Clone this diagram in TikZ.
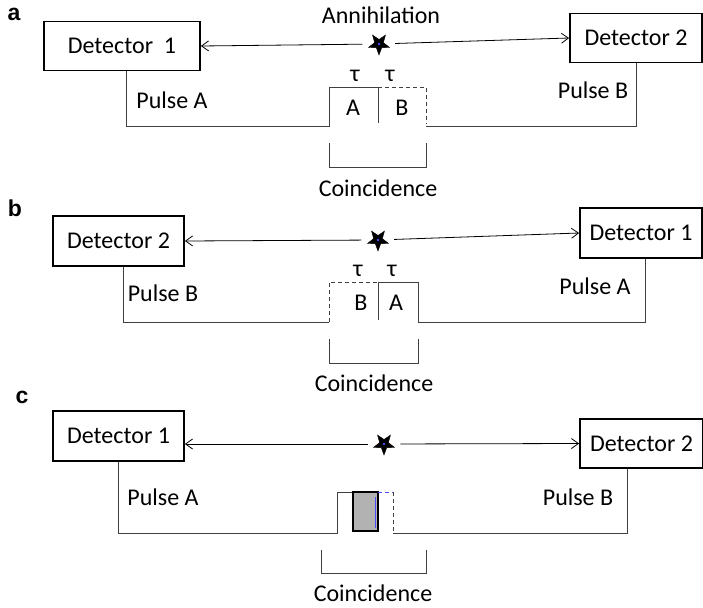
\documentclass[tikz,border=0pt]{standalone}
\usepackage{fontspec}
\setmainfont{Carlito}
\newfontfamily\panelfont{Liberation Sans}
\usetikzlibrary{positioning,calc,arrows.meta,shapes.geometric}

\begin{document}
\begin{tikzpicture}[
		x=1pt,y=-1pt,
		>={Straight Barb[length=7pt,width=10pt]},
		font=\fontsize{24}{28}\selectfont,
		detbox/.style={draw=black,line width=1.8pt,inner sep=0pt,minimum height=49pt},
		ray/.style={->,black,line width=0.8pt,shorten <=10pt},
		pulse/.style={black!75,line width=0.9pt},
		gatedash/.style={pulse,dash pattern=on 4pt off 3pt},
		source/.style={star,star points=5,star point ratio=2.4,shape border rotate=180,
			fill=black,draw=black,minimum size=22pt,inner sep=0pt},
		panel/.style={font=\panelfont\bfseries\fontsize{23}{26}\selectfont}
		]
		\useasboundingbox (0,0) rectangle (703,607);
		
		%----- panel a
		\node[panel] (labA) at (14,14) {a};
		\node[detbox,minimum width=156pt] (detOneA) at (122,46) {Detector~~1};
		\node[detbox,minimum width=132pt] (detTwoA) at (636,38) {Detector 2};
		\node[source] (srcA) at (379,44) {};
		\fill[blue!70] (srcA) circle (1.4pt);
		\node (annih) at (381,15) {Annihilation};
		\draw[ray] (srcA) -- (detOneA.east);
		\draw[ray] (srcA) -- (detTwoA.west);
		
		\coordinate (gA1) at (329,126);
		\coordinate (gA2) at (426,126);
		\draw[pulse] ($(detOneA.south)+(4,0)$) |- (gA1) -- (329,87) -- (378,87);
		\draw[pulse] (378,87) -- (378,123);
		\draw[gatedash] (378,87) -- (426,87) -- (426,124);
		\draw[pulse] (gA2) -| (detTwoA.south);
		\node (pulseAa) at (172,100) {Pulse A};
		\node (pulseBa) at (593,90) {Pulse B};
		\node (tauA1) at (355,76) {τ};
		\node (tauA2) at (390,76) {τ};
		\node (inAa) at (353,108) {A};
		\node (inBa) at (402,108) {B};
		\draw[pulse] (329,143) -- (329,167) -- (426,167) -- (426,143);
		\node (coinA) at (378,188) {Coincidence};
		
		%----- panel b
		\node[panel] (labB) at (15,208) {b};
		\node[detbox,minimum width=131pt,minimum height=50pt] (detTwoB) at (118.5,241) {Detector 2};
		\node[detbox,minimum width=122pt,minimum height=50pt] (detOneB) at (641,233) {Detector 1};
		\node[source] (srcB) at (378,240) {};
		\fill[blue!70] (srcB) circle (1.4pt);
		\draw[ray] (srcB) -- (detTwoB.east);
		\draw[ray] (srcB) -- (detOneB.west);
		
		\coordinate (gB1) at (329,322);
		\coordinate (gB2) at (418,322);
		\draw[pulse] ($(detTwoB.south)+(4.5,0)$) |- (gB1);
		\draw[gatedash] (gB1) -- (329,282) -- (378,282);
		\draw[pulse] (378,282) -- (378,320);
		\draw[pulse] (378,282) -- (418,282) -- (gB2);
		\draw[pulse] (gB2) -| ($(detOneB.south)+(4,0)$);
		\node (pulseBb) at (163,293) {Pulse B};
		\node (pulseAb) at (595,286) {Pulse A};
		\node (tauB1) at (358,271) {τ};
		\node (tauB2) at (392,271) {τ};
		\node (inBb) at (361,303) {B};
		\node (inAb) at (396,303) {A};
		\draw[pulse] (329,339) -- (329,363) -- (418,363) -- (418,339);
		\node (coinB) at (374,383) {Coincidence};
		
		%----- panel c
		\node[panel] (labC) at (22,397) {c};
		\node[detbox,minimum width=131pt,minimum height=50pt] (detOneC) at (118.5,436) {Detector 1};
		\node[detbox,minimum width=123pt] (detTwoC) at (641.5,443.5) {Detector 2};
		\node[source] (srcC) at (384,444) {};
		\fill[blue!70] (srcC) circle (1.4pt);
		\draw[ray] (srcC) -- (srcC -| detOneC.east);
		\draw[ray] (srcC) -- (detTwoC.west);
		
		\coordinate (gC1) at (337,533);
		\coordinate (gC2) at (393,533);
		\draw[pulse] ($(detOneC.south)+(-0.5,0)$) |- (gC1) -- (337,492) -- (353,492);
		\draw[black,line width=2pt,fill=black!30] (353,492) rectangle (378,531);
		\draw[blue!70,line width=0.6pt] (375.5,497) -- (375.5,528);
		\draw[blue!70,line width=0.6pt,dash pattern=on 4pt off 3pt] (378,492) -- (393,492);
		\draw[gatedash] (393,492) -- (393,531);
		\draw[pulse] (gC2) -| ($(detTwoC.south)+(-14,0)$);
		\node (pulseAc) at (163,497) {Pulse A};
		\node (pulseBc) at (578,497) {Pulse B};
		\draw[pulse] (321,550) -- (321,573) -- (426,573) -- (426,550);
		\node (coinC) at (373,593) {Coincidence};
		
	\end{tikzpicture}
\end{document}
